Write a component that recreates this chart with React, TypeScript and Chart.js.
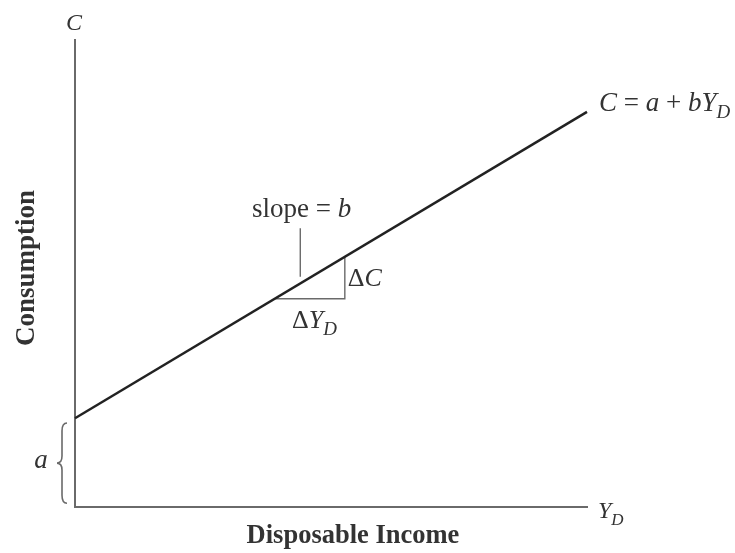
import React, { useEffect, useRef } from "react";
import { Chart, registerables } from "chart.js";

Chart.register(...registerables);

// ---- data (0–100 abstract units on both axes) ----
const incomeX = [0, 100];
const consumptionY = [19, 84.6];
const triangleX = [39.1, 52.7, 52.7];
const triangleY = [44.6, 44.6, 53.5];
const pointerX = [44, 44];
const pointerY = [49.3, 59.7];
const braceRange = [0.8, 18];

const yAxisTitle = "Consumption";
const xAxisTitle = "Disposable Income";

const FONT = '"Liberation Serif", "Times New Roman", serif';
const TEXT = "#333333";

type Part = { t: string; it?: boolean; sub?: boolean; bold?: boolean };

function drawParts(
  ctx: CanvasRenderingContext2D,
  parts: Part[],
  x: number,
  yMid: number,
  size: number,
  align: "left" | "center"
) {
  const fontFor = (p: Part) =>
    `${p.it ? "italic " : ""}${p.bold ? "bold " : ""}${p.sub ? Math.round(size * 0.72) : size}px ${FONT}`;
  let total = 0;
  for (const p of parts) {
    ctx.font = fontFor(p);
    total += ctx.measureText(p.t).width;
  }
  let cx = align === "center" ? x - total / 2 : x;
  ctx.textAlign = "left";
  ctx.textBaseline = "alphabetic";
  const base = yMid + size * 0.33;
  for (const p of parts) {
    ctx.font = fontFor(p);
    ctx.fillText(p.t, cx, p.sub ? base + size * 0.28 : base);
    cx += ctx.measureText(p.t).width;
  }
}

const annotations = {
  id: "annotations",
  afterDatasetsDraw(chart: any) {
    const ctx: CanvasRenderingContext2D = chart.ctx;
    const xs = chart.scales.x;
    const ys = chart.scales.y;
    const area = chart.chartArea;
    ctx.save();
    ctx.fillStyle = TEXT;

    // axis letters
    drawParts(ctx, [{ t: "C", it: true }], area.left - 1, 22, 24, "center");
    drawParts(ctx, [{ t: "Y", it: true }, { t: "D", it: true, sub: true }], area.right + 11, 510, 24, "left");

    // equation at end of line
    const ex = xs.getPixelForValue(incomeX[1]) + 12;
    const ey = ys.getPixelForValue(consumptionY[1]) - 10;
    drawParts(
      ctx,
      [
        { t: "C", it: true },
        { t: " = " },
        { t: "a", it: true },
        { t: " + " },
        { t: "bY", it: true },
        { t: "D", it: true, sub: true },
      ],
      ex,
      ey,
      27,
      "left"
    );

    // slope annotation
    drawParts(ctx, [{ t: "slope = " }, { t: "b", it: true }], 252, 208.5, 27, "left");
    drawParts(ctx, [{ t: "Δ" }, { t: "C", it: true }], xs.getPixelForValue(triangleX[2]) + 3, 277, 26, "left");
    drawParts(ctx, [{ t: "Δ" }, { t: "Y", it: true }, { t: "D", it: true, sub: true }], 292, 319, 26, "left");

    // brace + a
    const top = ys.getPixelForValue(braceRange[1]);
    const bot = ys.getPixelForValue(braceRange[0]);
    const mid = (top + bot) / 2;
    const xR = 67, xM = 62, xTip = 57;
    ctx.strokeStyle = "#6a6a6a";
    ctx.lineWidth = 1.6;
    ctx.beginPath();
    ctx.moveTo(xR, top);
    ctx.quadraticCurveTo(xM, top, xM, top + 8);
    ctx.lineTo(xM, mid - 7);
    ctx.quadraticCurveTo(xM, mid, xTip, mid);
    ctx.quadraticCurveTo(xM, mid, xM, mid + 7);
    ctx.lineTo(xM, bot - 8);
    ctx.quadraticCurveTo(xM, bot, xR, bot);
    ctx.stroke();
    drawParts(ctx, [{ t: "a", it: true }], 41, 459.5, 27, "center");

    // axis titles
    ctx.font = `bold 27px ${FONT}`;
    ctx.textAlign = "center";
    ctx.textBaseline = "alphabetic";
    ctx.save();
    ctx.translate(34, 268);
    ctx.rotate(-Math.PI / 2);
    ctx.fillText(yAxisTitle, 0, 0);
    ctx.restore();
    ctx.font = `bold 26.5px ${FONT}`;
    ctx.fillText(xAxisTitle, 353, 543);

    ctx.restore();
  },
};

export default function App() {
  const ref = useRef<HTMLCanvasElement | null>(null);
  useEffect(() => {
    if (!ref.current) return;
    const pts = (xa: number[], ya: number[]) => xa.map((x, i) => ({ x, y: ya[i] }));
    const chart = new Chart(ref.current, {
      type: "scatter",
      data: {
        datasets: [
          {
            data: pts(incomeX, consumptionY),
            showLine: true,
            borderColor: "#222222",
            borderWidth: 2.5,
            pointRadius: 0,
            clip: false,
          } as any,
          {
            data: pts(triangleX, triangleY),
            showLine: true,
            borderColor: "#6a6a6a",
            borderWidth: 1.4,
            pointRadius: 0,
            clip: false,
          },
          {
            data: pts(pointerX, pointerY),
            showLine: true,
            borderColor: "#6a6a6a",
            borderWidth: 1.4,
            pointRadius: 0,
            clip: false,
          },
        ],
      },
      options: {
        animation: false,
        responsive: false,
        events: [],
        layout: { padding: { left: 75, right: 148, top: 40, bottom: 46 } },
        plugins: { legend: { display: false }, tooltip: { enabled: false } },
        scales: {
          x: {
            type: "linear",
            min: 0,
            max: 100,
            ticks: { display: false },
            grid: { display: false, drawTicks: false },
            border: { display: true, color: "#6a6a6a", width: 2 },
          },
          y: {
            type: "linear",
            min: 0,
            max: 100,
            ticks: { display: false },
            grid: { display: false, drawTicks: false },
            border: { display: true, color: "#6a6a6a", width: 2 },
          },
        },
      },
      plugins: [annotations],
    });
    return () => chart.destroy();
  }, []);
  return (
    <div style={{ position: "fixed", left: 0, top: 0, width: 735, height: 553, background: "#fff" }}>
      <canvas ref={ref} width={735} height={553} />
    </div>
  );
}
